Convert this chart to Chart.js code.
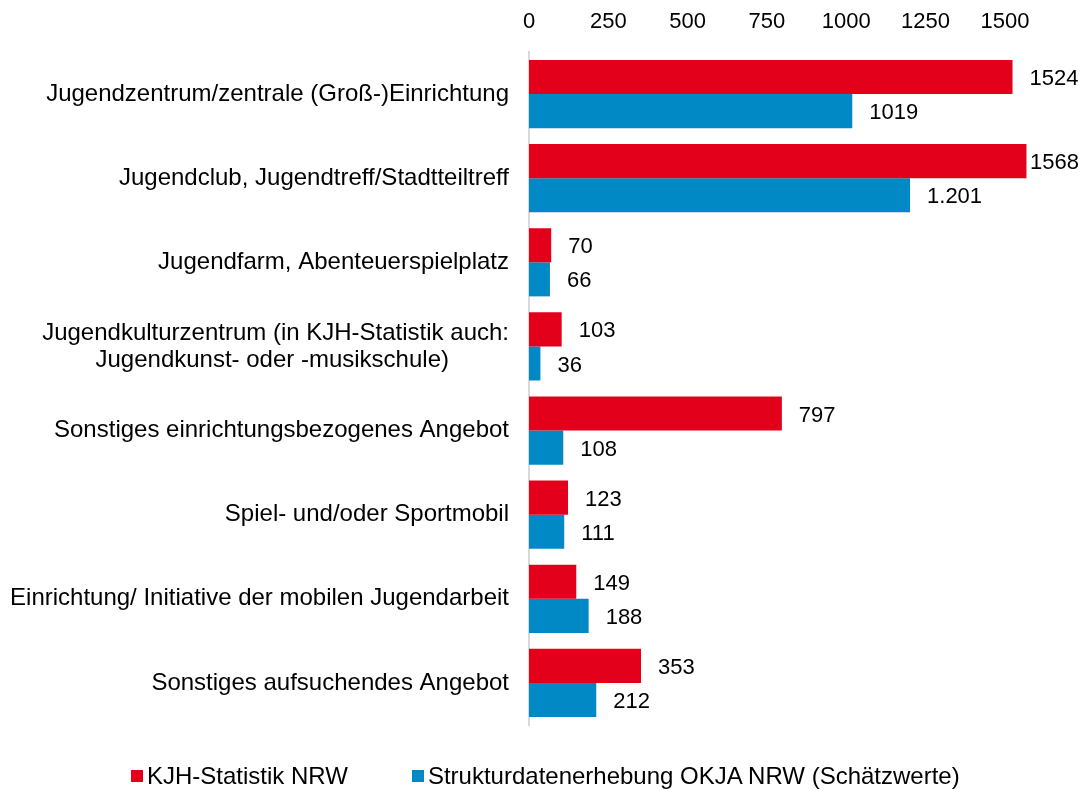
<!DOCTYPE html>
<html lang="de">
<head>
<meta charset="UTF-8" />
<script src="https://cdn.jsdelivr.net/npm/chart.js"></script>
<style>
  html, body { margin: 0; padding: 0; background: #fff; }
  #wrap { position: relative; width: 1082px; height: 789px; }
  #legende {
    position: absolute; left: 131px; top: 762px;
    display: flex; align-items: center; gap: 64px;
    font-family: 'Liberation Sans', Arial, sans-serif; font-size: 24px; color: #000;
  }
  #legende span { display: flex; align-items: center; }
  #legende i { display: inline-block; width: 12px; height: 12px; margin-right: 4px; }
</style>
</head>
<body>
<div id="wrap">
  <canvas id="chart"></canvas>
  <div id="legende"></div>
</div>
<script>
// Daten
const kategorien = [
  "Jugendzentrum/zentrale (Groß-)Einrichtung",
  "Jugendclub, Jugendtreff/Stadtteiltreff",
  "Jugendfarm, Abenteuerspielplatz",
  ["Jugendkulturzentrum (in KJH-Statistik auch:", "Jugendkunst- oder -musikschule)"],
  "Sonstiges einrichtungsbezogenes Angebot",
  "Spiel- und/oder Sportmobil",
  "Einrichtung/ Initiative der mobilen Jugendarbeit",
  "Sonstiges aufsuchendes Angebot"
];
const kjhWerte = [1524, 1568, 70, 103, 797, 123, 149, 353];
const okjaWerte = [1019, 1201, 66, 36, 108, 111, 188, 212];
const kjhTexte = ["1524", "1568", "70", "103", "797", "123", "149", "353"];
const okjaTexte = ["1019", "1.201", "66", "36", "108", "111", "188", "212"];
const tickWerte = [0, 250, 500, 750, 1000, 1250, 1500];

const font = "'Liberation Sans', Arial, sans-serif";
const farben = ["#E3001B", "#0089C4"];

// mehrzeilige Beschriftung zentriert im rechtsbündigen Block
const mess = document.createElement("canvas").getContext("2d");
mess.font = "24px " + font;
function zentriereZeilen(label) {
  if (!Array.isArray(label)) return label;
  const breit = Math.max(...label.map(z => mess.measureText(z).width));
  const sp = mess.measureText("\u00A0").width;
  return label.map(z => z + "\u00A0".repeat(Math.round((breit - mess.measureText(z).width) / 2 / sp)));
}

// Werte hinter die Balken schreiben (am rechten Rand nach innen geschoben)
const wertLabels = {
  id: "wertLabels",
  afterDatasetsDraw(chart) {
    const ctx = chart.ctx;
    ctx.save();
    ctx.font = "22px " + font;
    ctx.fillStyle = "#000";
    ctx.textBaseline = "middle";
    ctx.textAlign = "left";
    chart.data.datasets.forEach((ds, i) => {
      const meta = chart.getDatasetMeta(i);
      meta.data.forEach((bar, j) => {
        const t = ds.texte[j];
        const x = Math.min(bar.x + 17, chart.width - ctx.measureText(t).width - 3);
        ctx.fillText(t, x, bar.y + 2);
      });
    });
    ctx.restore();
  }
};

const chart = new Chart(document.getElementById("chart"), {
  type: "bar",
  data: {
    labels: kategorien,
    datasets: [
      {
        label: "KJH-Statistik NRW",
        data: kjhWerte,
        texte: kjhTexte,
        backgroundColor: farben[0],
        categoryPercentage: 0.81,
        barPercentage: 1.0
      },
      {
        label: "Strukturdatenerhebung OKJA NRW (Schätzwerte)",
        data: okjaWerte,
        texte: okjaTexte,
        backgroundColor: farben[1],
        categoryPercentage: 0.81,
        barPercentage: 1.0
      }
    ]
  },
  options: {
    indexAxis: "y",
    responsive: true,
    maintainAspectRatio: false,
    animation: false,
    layout: { padding: { top: 0, right: 0, left: 8, bottom: 64 } },
    scales: {
      x: {
        position: "top",
        min: 0,
        max: 1743,
        afterBuildTicks(scale) {
          scale.ticks = tickWerte.map(v => ({ value: v }));
        },
        afterFit(scale) { scale.height = 52; },
        grid: { display: false, drawTicks: false },
        border: { display: false },
        ticks: {
          color: "#000",
          font: { family: font, size: 22 },
          padding: 17,
          maxRotation: 0,
          callback: v => String(v)
        }
      },
      y: {
        afterFit(scale) { scale.width = 521; },
        grid: { display: false, drawTicks: false },
        border: { display: true, color: "#d9d9d9", width: 2 },
        ticks: {
          color: "#000",
          font: { family: font, size: 24, lineHeight: 1.12 },
          padding: 20,
          callback(value) {
            return zentriereZeilen(this.getLabelForValue(value));
          }
        }
      }
    },
    plugins: {
      legend: { display: false },
      tooltip: { enabled: false }
    }
  },
  plugins: [wertLabels]
});

// Legende
const legende = document.getElementById("legende");
chart.data.datasets.forEach((ds, i) => {
  const s = document.createElement("span");
  const box = document.createElement("i");
  box.style.background = farben[i];
  s.appendChild(box);
  s.appendChild(document.createTextNode(ds.label));
  legende.appendChild(s);
});
</script>
</body>
</html>
